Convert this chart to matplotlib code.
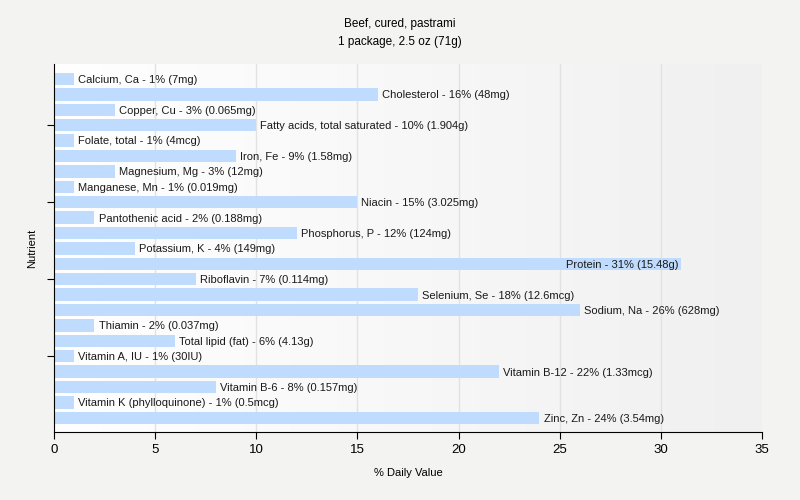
import numpy as np
import matplotlib.pyplot as plt
from matplotlib.colors import LinearSegmentedColormap

plt.rcParams["font.family"] = ["Liberation Sans", "DejaVu Sans"]

nutrients = [
    "Calcium, Ca", "Cholesterol", "Copper, Cu", "Fatty acids, total saturated",
    "Folate, total", "Iron, Fe", "Magnesium, Mg", "Manganese, Mn", "Niacin",
    "Pantothenic acid", "Phosphorus, P", "Potassium, K", "Protein", "Riboflavin",
    "Selenium, Se", "Sodium, Na", "Thiamin", "Total lipid (fat)", "Vitamin A, IU",
    "Vitamin B-12", "Vitamin B-6", "Vitamin K (phylloquinone)", "Zinc, Zn",
]
daily_value = [1, 16, 3, 10, 1, 9, 3, 1, 15, 2, 12, 4, 31, 7, 18, 26, 2, 6, 1, 22, 8, 1, 24]
amounts = [
    "7mg", "48mg", "0.065mg", "1.904g", "4mcg", "1.58mg", "12mg", "0.019mg",
    "3.025mg", "0.188mg", "124mg", "149mg", "15.48g", "0.114mg", "12.6mcg",
    "628mg", "0.037mg", "4.13g", "30IU", "1.33mcg", "0.157mg", "0.5mcg", "3.54mg",
]

fig = plt.figure(figsize=(8, 5), dpi=100, facecolor="#f3f3f1")
ax = fig.add_axes([0.0675, 0.136, 0.885, 0.736])

xmax = 35
n = len(nutrients)
ylim = (n - 1 + 0.92, -0.97)

# soft horizontal gradient behind the plot
grad = np.linspace(0, 1, 256).reshape(1, -1)
bg = LinearSegmentedColormap.from_list("bg", ["#ffffff", "#f0f0f0"])
ax.imshow(grad, extent=[0, xmax, ylim[0], ylim[1]], aspect="auto", cmap=bg, zorder=0)

for x in range(5, xmax, 5):
    ax.axvline(x, color="#e2e2e2", lw=1, zorder=1)

y = np.arange(n)
ax.barh(y, daily_value, height=0.8, color="#bfdbfd", zorder=2)

for i, (name, v, a) in enumerate(zip(nutrients, daily_value, amounts)):
    label = f"{name} - {v}% ({a})"
    if v > 28:
        ax.text(v - 0.15, i + 0.06, label, va="center", ha="right", fontsize=8, color="#1a1a1a", zorder=3)
    else:
        ax.text(v + 0.2, i + 0.06, label, va="center", ha="left", fontsize=8, color="#1a1a1a", zorder=3)

ax.set_xlim(0, xmax)
ax.set_ylim(*ylim)
ax.set_xticks(range(0, xmax + 1, 5))
ax.set_yticks([3, 8, 13, 18])
ax.set_yticklabels([])
ax.tick_params(axis="both", labelsize=9.5, length=5, color="#000000")
for side in ["top", "right"]:
    ax.spines[side].set_visible(False)
ax.set_xlabel("% Daily Value", fontsize=8, labelpad=9)
ax.set_ylabel("Nutrient", fontsize=8)

fig.text(0.5, 0.952, "Beef, cured, pastrami", ha="center", va="center", fontsize=8.5)
fig.text(0.5, 0.917, "1 package, 2.5 oz (71g)", ha="center", va="center", fontsize=8.5)

fig.savefig("out.png", dpi=100, facecolor=fig.get_facecolor())
